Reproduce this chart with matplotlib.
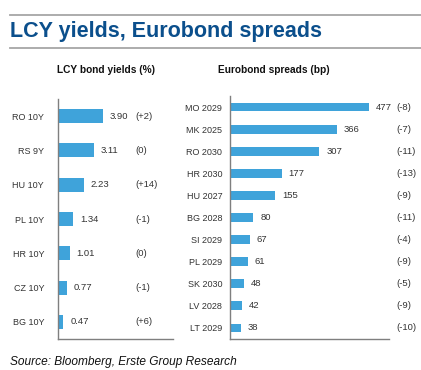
import matplotlib.pyplot as plt
from matplotlib.lines import Line2D

plt.rcParams['font.family'] = ['Liberation Sans', 'DejaVu Sans']

# --- Dados ---
lcy_labels = ["RO 10Y", "RS 9Y", "HU 10Y", "PL 10Y", "HR 10Y", "CZ 10Y", "BG 10Y"]
lcy_values = [3.90, 3.11, 2.23, 1.34, 1.01, 0.77, 0.47]
lcy_changes = ["(+2)", "(0)", "(+14)", "(-1)", "(0)", "(-1)", "(+6)"]

euro_labels = ["MO 2029", "MK 2025", "RO 2030", "HR 2030", "HU 2027", "BG 2028",
               "SI 2029", "PL 2029", "SK 2030", "LV 2028", "LT 2029"]
euro_values = [477, 366, 307, 177, 155, 80, 67, 61, 48, 42, 38]
euro_changes = ["(-8)", "(-7)", "(-11)", "(-13)", "(-9)", "(-11)",
                "(-4)", "(-9)", "(-5)", "(-9)", "(-10)"]

BAR = '#3FA3DA'
TXT = '#333333'
W, H = 421, 370

fig = plt.figure(figsize=(W / 100, H / 100), dpi=100)

# --- Cabeçalho ---
for yp in (15, 48):
    fig.add_artist(Line2D([10 / W, 1], [1 - yp / H, 1 - yp / H], color='#A6A6A6', lw=1.3))
fig.text(10 / W, 1 - 31.5 / H, "LCY yields, Eurobond spreads", color='#0B4F8C',
         fontsize=15.5, fontweight='bold', va='center', ha='left')
fig.text(57 / W, 1 - 70 / H, "LCY bond yields (%)", fontsize=7.3, fontweight='bold',
         va='center', ha='left', color='#111111')
fig.text(218 / W, 1 - 70 / H, "Eurobond spreads (bp)", fontsize=7.3, fontweight='bold',
         va='center', ha='left', color='#111111')
fig.text(10 / W, 1 - 362 / H, "Source: Bloomberg, Erste Group Research", fontsize=8.6,
         style='italic', va='center', ha='left', color='#111111')


def painel(rect, labels, values, changes, xmax, fmt, chg_x, bar_h, pad):
    l, t, r, b = rect
    ax = fig.add_axes([l / W, 1 - b / H, (r - l) / W, (b - t) / H])
    n = len(labels)
    ys = list(range(n))
    ax.barh(ys, values, height=bar_h, color=BAR)
    ax.set_ylim(n - 0.5, -0.5)
    ax.set_xlim(0, xmax)
    ax.set_yticks(ys)
    ax.set_yticklabels(labels, fontsize=6.5, color=TXT)
    ax.tick_params(axis='y', length=0, pad=pad)
    ax.set_xticks([])
    for s in ('top', 'right'):
        ax.spines[s].set_visible(False)
    for s in ('left', 'bottom'):
        ax.spines[s].set_color('#7F7F7F')
        ax.spines[s].set_linewidth(1.0)
    for y, v, c in zip(ys, values, changes):
        ax.annotate(fmt.format(v), (v, y), xytext=(5, 0), textcoords='offset points',
                    va='center', ha='left', fontsize=6.8, color=TXT)
        ax.text(chg_x, y, c, va='center', ha='left', fontsize=6.8, color=TXT,
                clip_on=False)
    return ax


painel((58, 99, 173, 339), lcy_labels, lcy_values, lcy_changes, 10.0, "{:.2f}",
       6.7, 0.41, 10)
painel((230, 96, 389, 339), euro_labels, euro_values, euro_changes, 546, "{:d}",
       572, 0.4, 5.5)

fig.savefig("out.png", dpi=100)
